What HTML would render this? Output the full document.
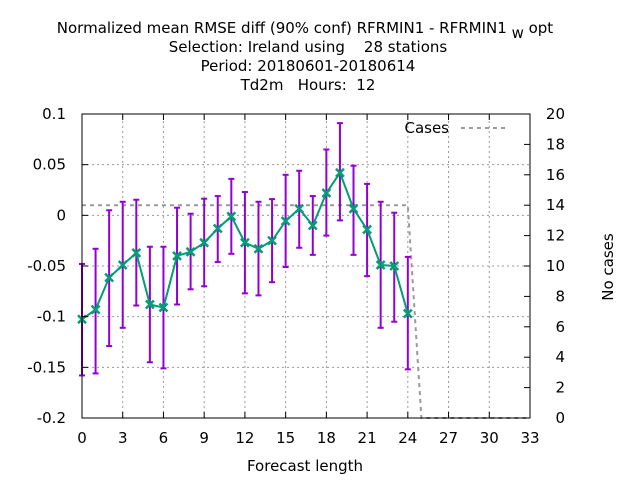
<!DOCTYPE html>
<html><head><meta charset="utf-8"><style>
html,body{margin:0;padding:0;background:#fff;}
svg{display:block;font-family:"DejaVu Sans","Liberation Sans",sans-serif;}
text{white-space:pre;}
</style></head><body>
<svg id="chart" width="640" height="480" viewBox="0 0 640 480" xmlns="http://www.w3.org/2000/svg" xml:space="preserve">
<g font-size="15" text-anchor="middle" fill="#000">
<text x="305" y="33">Normalized mean RMSE diff (90% conf) RFRMIN1 - RFRMIN1<tspan font-size="15" dy="5"> w</tspan><tspan dy="-5"> opt</tspan></text>
<text x="308" y="52">Selection: Ireland using    28 stations</text>
<text x="308" y="71">Period: 20180601-20180614</text>
<text x="308" y="90">Td2m   Hours:  12</text>
</g>
<g id="grid"></g>
<g id="marks"></g>
<rect x="82" y="114" width="448" height="304" fill="none" stroke="#000" stroke-width="1"/>
<g id="axes" font-size="15" fill="#000"></g>
<text x="305" y="471" font-size="15" text-anchor="middle">Forecast length</text>
<text transform="translate(613,267) rotate(-90)" font-size="15" text-anchor="middle">No cases</text>
<g>
<text x="449" y="133" font-size="15" text-anchor="end">Cases</text>
<line x1="461" y1="128" x2="505" y2="128" stroke="#999" stroke-width="2" stroke-dasharray="4,4"/>
</g>
</svg>
<script>
const hours=[0,1,2,3,4,5,6,7,8,9,10,11,12,13,14,15,16,17,18,19,20,21,22,23,24];
const meanVals=[-0.1026,-0.093,-0.0615,-0.049,-0.037,-0.088,-0.091,-0.040,-0.036,-0.027,-0.013,-0.001,-0.027,-0.033,-0.025,-0.0056,0.0065,-0.010,0.022,0.042,0.0065,-0.014,-0.049,-0.050,-0.097];
const upperVals=[-0.048,-0.033,0.005,0.0134,0.0154,-0.031,-0.031,0.0075,0.0016,0.0164,0.019,0.036,0.023,0.0134,0.016,0.040,0.044,0.019,0.065,0.091,0.049,0.031,0.0134,0.0026,-0.041];
const lowerVals=[-0.158,-0.156,-0.129,-0.111,-0.089,-0.145,-0.151,-0.088,-0.073,-0.070,-0.046,-0.038,-0.077,-0.079,-0.066,-0.051,-0.032,-0.039,-0.020,-0.005,-0.039,-0.060,-0.111,-0.105,-0.152];
const caseHours=[0,24,25,33];
const caseVals=[14,14,0,0];
const xTicks=[0,3,6,9,12,15,18,21,24,27,30,33];
const yTicks=[0.1,0.05,0,-0.05,-0.1,-0.15,-0.2];
const yTickLabels=["0.1","0.05","0","-0.05","-0.1","-0.15","-0.2"];
const y2Ticks=[0,2,4,6,8,10,12,14,16,18,20];

const NS="http://www.w3.org/2000/svg";
const X0=82,X1=530,Y0=418,Y1=114;
const xs=h=>X0+(h-0)/33*(X1-X0);
const ys=v=>Y0-(v+0.2)/0.3*(Y0-Y1);
const y2s=c=>Y0-c/20*(Y0-Y1);
function mk(tag,attrs,parent){const e=document.createElementNS(NS,tag);for(const k in attrs)e.setAttribute(k,attrs[k]);parent.appendChild(e);return e;}
const grid=document.getElementById('grid'),axes=document.getElementById('axes'),marks=document.getElementById('marks');
xTicks.forEach(t=>{
  const x=xs(t);
  if(t>0&&t<33){const g=mk('line',{x1:x,y1:Y0,x2:x,y2:Y1,stroke:'#999','stroke-width':1,'stroke-dasharray':'2,3'},grid);
  
  }
  const tk=mk('line',{x1:x,y1:Y0,x2:x,y2:Y0-6,stroke:'#000'},axes);
  
  
  const tt=mk('line',{x1:x,y1:Y1,x2:x,y2:Y1+6,stroke:'#000'},axes);
  
  
  const l=mk('text',{x:x,y:443,'text-anchor':'middle'},axes);l.textContent=String(t);
  
  
});
yTicks.forEach((t,i)=>{
  const y=ys(t);
  if(i>0&&i<yTicks.length-1){const g=mk('line',{x1:X0,y1:y,x2:X1,y2:y,stroke:'#999','stroke-width':1,'stroke-dasharray':'2,3'},grid);
  
  }
  const tk=mk('line',{x1:X0,y1:y,x2:X0+6,y2:y,stroke:'#000'},axes);
  
  
  const l=mk('text',{x:66,y:y+5,'text-anchor':'end'},axes);l.textContent=yTickLabels[i];
  
  
});
y2Ticks.forEach(t=>{
  const y=y2s(t);
  const tk=mk('line',{x1:X1,y1:y,x2:X1-6,y2:y,stroke:'#000'},axes);
  
  
  const l=mk('text',{x:565,y:y+5,'text-anchor':'end'},axes);l.textContent=String(t);
  
  
});
const cl=mk('polyline',{points:caseHours.map((h,i)=>xs(h)+','+y2s(caseVals[i])).join(' '),fill:'none',stroke:'#999','stroke-width':2,'stroke-dasharray':'4,4'},marks);


hours.forEach((h,i)=>{
  const x=xs(h),yt=ys(upperVals[i]),yb=ys(lowerVals[i]);
  const g=mk('g',{stroke:'#9400d3','stroke-width':2},marks);
  
  
  mk('line',{x1:x,y1:yt,x2:x,y2:yb},g);
  mk('line',{x1:x-3,y1:yt,x2:x+3,y2:yt},g);
  mk('line',{x1:x-3,y1:yb,x2:x+3,y2:yb},g);
});
const ml=mk('polyline',{points:hours.map((h,i)=>xs(h)+','+ys(meanVals[i])).join(' '),fill:'none',stroke:'#009e73','stroke-width':2},marks);


hours.forEach((h,i)=>{
  const x=xs(h),y=ys(meanVals[i]);
  const p=mk('path',{d:`M${x-4},${y-4}L${x+4},${y+4}M${x-4},${y+4}L${x+4},${y-4}`,stroke:'#009e73','stroke-width':2.5},marks);
  
  
});
</script>
</body></html>
